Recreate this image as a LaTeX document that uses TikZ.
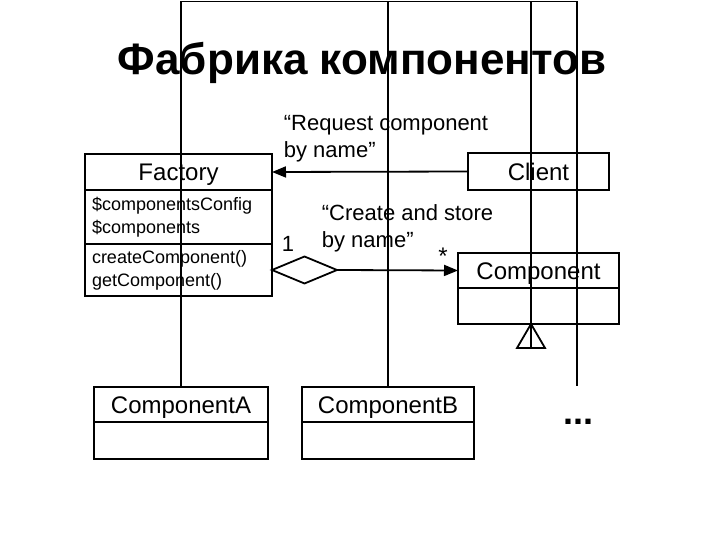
\documentclass[tikz,border=0pt]{standalone}
\usepackage{fontspec}
\setmainfont{Liberation Sans}
\usetikzlibrary{arrows.meta,shapes.geometric,positioning}

\begin{document}
\begin{tikzpicture}[x=1pt,y=-1pt,line width=1.8pt,
    classname/.style={draw,outer sep=0pt,inner sep=0pt,text height=23pt,text depth=5pt,
      font=\fontsize{24}{28}\selectfont},
    compart/.style={draw,outer sep=0pt,align=left,inner xsep=7pt,inner ysep=0pt,
      font=\fontsize{18}{23}\selectfont},
    note/.style={align=left,inner sep=0pt,font=\fontsize{22}{27}\selectfont},
    assoc/.style={-{Triangle[length=14pt,width=11pt]}}]
  \useasboundingbox (0,0) rectangle (720,540);
  \node[font=\bfseries\fontsize{44}{52}\selectfont] (title) at (362,63) {Фабрика компонентов};
  % classes
  \node[classname,minimum width=187pt,minimum height=36pt] (fac) at (178.5,172) {Factory};
  \node[compart,text width=173pt,minimum height=54pt,below=0pt of fac] (facAttr)
    {\$componentsConfig\\\$components};
  \node[compart,text width=173pt,minimum height=52pt,below=0pt of facAttr] (facOps)
    {createComponent()\\getComponent()};
  \node[classname,minimum width=141pt,minimum height=37pt] (client) at (538.5,171.5) {Client};
  \node[classname,minimum width=161pt,minimum height=35pt] (comp) at (538.5,270.5) {Component};
  \node[draw,outer sep=0pt,minimum width=161pt,minimum height=36pt,below=0pt of comp] (compBody) {};
  \node[classname,minimum width=174pt,minimum height=35pt] (compA) at (181,404.5) {ComponentA};
  \node[draw,outer sep=0pt,minimum width=174pt,minimum height=37pt,below=0pt of compA] (compABody) {};
  \node[classname,minimum width=172pt,minimum height=35pt] (compB) at (388,404.5) {ComponentB};
  \node[draw,outer sep=0pt,minimum width=172pt,minimum height=37pt,below=0pt of compB] (compBBody) {};
  \node[font=\bfseries\fontsize{36}{40}\selectfont,inner sep=0pt] (more) at (578.5,421.5) {...};
  % associations
  \node[diamond,draw,minimum width=65pt,minimum height=27pt,inner sep=0pt,outer sep=0pt,
    anchor=west] (agg) at (facOps.east) {};
  \draw[assoc] (client.west) -- (fac.east);
  \draw[assoc] (agg.east) -- (comp.west);
  \node[note,anchor=west] (reqLbl) at (283,139) {“Request component\\by name”};
  \node[note,anchor=west] (crtLbl) at (321,228.5) {“Create and store\\by name”};
  \node[note] (one) at (288,244) {1};
  \node[note,font=\fontsize{24}{28}\selectfont] (many) at (443,256) {*};
  % inheritance
  \coordinate (bus) at (0,1.5);
  \coordinate (tip) at (531,324);
  \coordinate (triBase) at (531,348);
  \coordinate (moreEnd) at (577,386);
  \draw (compA.north) |- (moreEnd |- bus) -- (moreEnd);
  \draw (compB.north) -- (compB.north |- bus);
  \draw (triBase) -- (triBase |- bus);
  \draw (tip) -- ++(-14,24) -- ++(28,0) -- cycle;
\end{tikzpicture}
\end{document}
